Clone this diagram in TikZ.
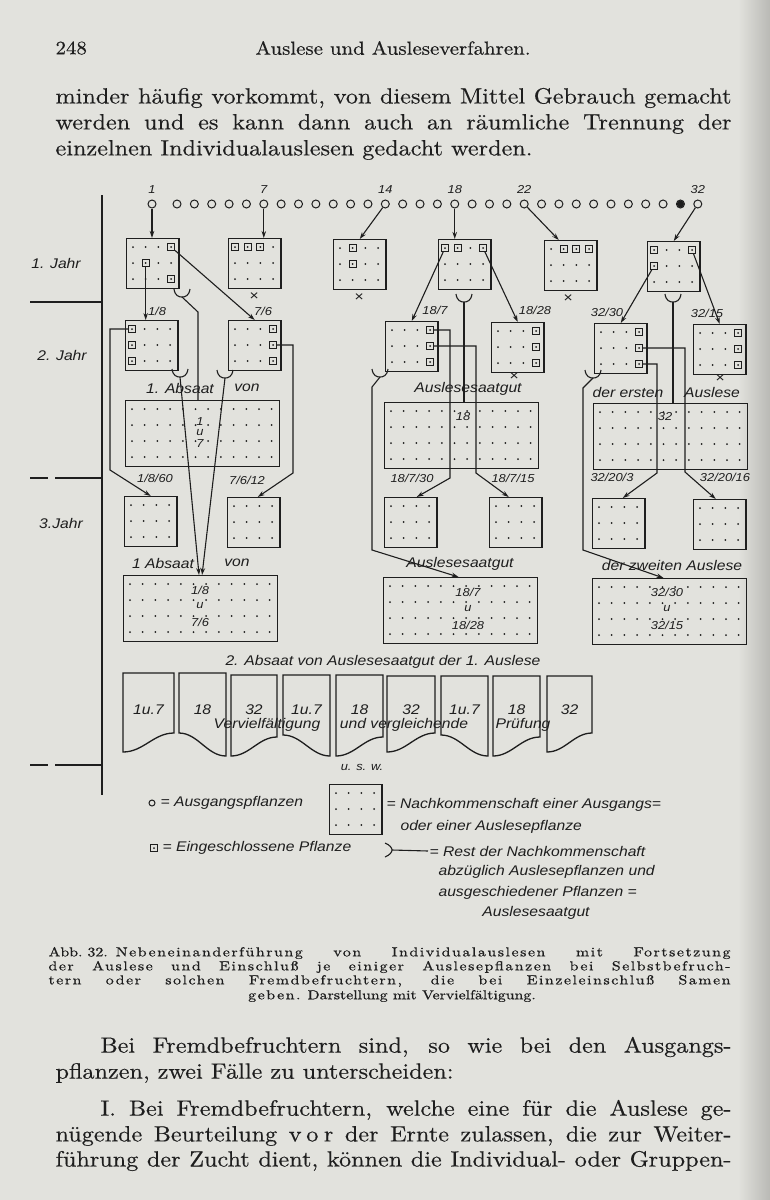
\documentclass[tikz,border=0pt]{standalone}
\usepackage{fontspec}
\newfontfamily\hand{Liberation Sans}[FakeStretch=1.12]
\newfontfamily\bookfont{lmroman10-regular.otf}[FakeStretch=1.1,FakeBold=0.4]
\newfontfamily\capfamily{lmroman10-regular.otf}[FakeStretch=1.22,FakeBold=0.7]
\newfontfamily\capspacefamily{lmroman10-regular.otf}[FakeStretch=1.22,FakeBold=0.7,LetterSpace=12]
\newfontfamily\vorfamily{lmroman10-regular.otf}[FakeStretch=1.1,FakeBold=0.4,LetterSpace=25]
\usetikzlibrary{positioning,arrows.meta,calc}

\definecolor{paper}{RGB}{226,226,221}
\definecolor{ink}{RGB}{30,30,30}

\newcommand\bodyfont{\bookfont\fontsize{22}{26}\selectfont}
\newcommand\headfont{\bookfont\fontsize{19}{22}\selectfont}
\newcommand\capfont{\capfamily\fontsize{13}{14.5}\selectfont}
\newcommand\spaced[1]{{\capspacefamily#1}}

% Parzelle: Name, x, y (links oben), Spalten, Reihen
\newcommand\plotbox[5]{%
  \node[plot, minimum width={(#4-1)*12.7+14}, minimum height={(#5-1)*16+18}] (#1) at (#2,#3) {};
  \foreach \i in {1,...,#4}
    \foreach \j in {1,...,#5}
      \fill ({#2+7+(\i-1)*12.7},{#3+9+(\j-1)*16}) circle (1pt);
}
% eingeschlossene Pflanze: Name, Parzelle, Spalte, Reihe
\newcommand\encl[4]{%
  \node[enc] (#1) at ($(#2.north west)+({7+(#3-1)*12.7},{9+(#4-1)*16})$) {};
}
% Rest der Nachkommenschaft: Name, x, y (Spitze)
\newcommand\rest[3]{%
  \draw ({#2-8},{#3-8}) .. controls ({#2-7},{#3-1}) and ({#2-3},#3) .. (#2,#3)
        .. controls ({#2+3},#3) and ({#2+7},{#3-1}) .. ({#2+8},{#3-8});
  \coordinate (#1) at (#2,#3);
}
% Vervielfaeltigung: x0, x1, oben, unten links, unten rechts, Name, Text
\newcommand\flag[7]{%
  \draw[line width=1.3pt] (#1,#4) -- (#1,#3) -- (#2,#3) -- (#2,#5)
    .. controls ({#2-0.4*(#2-#1)},#5) and ({#1+0.4*(#2-#1)},#4) .. (#1,#4) -- cycle;
  \node[hand] (#6) at ({(#1+#2)/2},710) {#7};
}

\begin{document}
\begin{tikzpicture}[x=1pt, y=-1pt, color=ink, line width=1.1pt,
    plot/.style={draw, rectangle, line width=1.4pt, inner sep=0pt, anchor=north west},
    enc/.style={draw, rectangle, minimum size=7pt, inner sep=0pt, line width=1pt},
    seed/.style={draw, circle, minimum size=8pt, inner sep=0pt, line width=1pt},
    arr/.style={-{Stealth[length=7pt,width=4.5pt]}},
    hand/.style={font=\hand\itshape\fontsize{14}{16}\selectfont, inner sep=1pt},
    num/.style={font=\hand\itshape\fontsize{11.5}{13}\selectfont, inner sep=1pt},
    body/.style={anchor=west, inner sep=0pt, font=\bodyfont},
    capt/.style={anchor=west, inner sep=0pt, font=\capfont}]

\fill[paper] (0,0) rectangle (770,1200);
\shade[left color=paper, right color=paper!82!black] (738,0) rectangle (770,1200);
\useasboundingbox (0,0) rectangle (770,1200);

%%% Kopf
\node[anchor=west, inner sep=0pt, font=\headfont] (pg) at (55,48) {248};
\node[inner sep=0pt, font=\headfont] (hd) at (393,48) {Auslese und Ausleseverfahren.};

\node[body] (t1) at (55,98) {\makebox[676pt][s]{minder häufig vorkommt, von diesem Mittel Gebrauch gemacht}};
\node[body] (t2) at (55,124) {\makebox[676pt][s]{werden und es kann dann auch an räumliche Trennung der}};
\node[body] (t3) at (55,150) {einzelnen Individualauslesen gedacht werden.};

%%% Jahre
\draw (102,195) -- (102,795);
\draw (30,302) -- (102,302);
\draw (30,478) -- (48,478);
\draw (55,478) -- (102,478);
\draw (30,765) -- (48,765);
\draw (55,765) -- (102,765);
\node[hand] (jr1) at (56,263) {1. Jahr};
\node[hand] (jr2) at (62,355) {2. Jahr};
\node[hand] (jr3) at (61,523) {3.Jahr};

%%% Ausgangspflanzen
\node[seed] (c1) at (152,204) {};
\foreach \i in {2,...,32}
  \node[seed] (c\i) at ({177+(\i-2)*17.36},204) {};
\fill (c31) circle (3.6pt);

\node[num, above=4pt of c1] (n1) {1};
\node[num, above=4pt of c7] (n7) {7};
\node[num, above=4pt of c14] (n14) {14};
\node[num, above=4pt of c18] (n18) {18};
\node[num, above=4pt of c22] (n22) {22};
\node[num, above=4pt of c32] (n32) {32};

%%% 1. Jahr
\plotbox{ja}{126}{238}{4}{3}
\plotbox{jb}{228}{238}{4}{3}
\plotbox{jc}{333}{239}{4}{3}
\plotbox{jd}{438}{239}{4}{3}
\plotbox{je}{544}{240}{4}{3}
\plotbox{jf}{647}{241}{4}{3}
\encl{ja1}{ja}{4}{1} \encl{ja2}{ja}{2}{2} \encl{ja3}{ja}{4}{3}
\encl{jb1}{jb}{1}{1} \encl{jb2}{jb}{2}{1} \encl{jb3}{jb}{3}{1}
\encl{jc1}{jc}{2}{1} \encl{jc2}{jc}{2}{2}
\encl{jd1}{jd}{1}{1} \encl{jd2}{jd}{2}{1} \encl{jd3}{jd}{4}{1}
\encl{je1}{je}{2}{1} \encl{je2}{je}{3}{1} \encl{je3}{je}{4}{1}
\encl{jf1}{jf}{1}{1} \encl{jf2}{jf}{4}{1} \encl{jf3}{jf}{1}{2}

\draw[arr] (c1) -- (c1 |- ja.north);
\draw[arr] (c7) -- (c7 |- jb.north);
\draw[arr] (c14) -- (jc.north);
\draw[arr] (c18) -- (c18 |- jd.north);
\draw[arr] (c22) -- ([xshift=-12pt]je.north);
\draw[arr] (c32) -- (jf.north);

\node[hand] (xb) at (254,297) {×};
\node[hand] (xc) at (359,298) {×};
\node[hand] (xe) at (568,299) {×};

%%% 2. Jahr
\plotbox{ka}{125}{320}{4}{3}
\plotbox{kb}{228}{320}{4}{3}
\plotbox{kc}{385}{321}{4}{3}
\plotbox{kd}{491}{322}{4}{3}
\plotbox{ke}{594}{323}{4}{3}
\plotbox{kf}{693}{324}{4}{3}
\foreach \r in {1,2,3} {
  \encl{ka\r}{ka}{1}{\r}
  \encl{kb\r}{kb}{4}{\r}
  \encl{kc\r}{kc}{4}{\r}
  \encl{kd\r}{kd}{4}{\r}
  \encl{ke\r}{ke}{4}{\r}
  \encl{kf\r}{kf}{4}{\r}
}

\draw[arr] (ja2) -- (ja2 |- ka.north);
\draw[arr] (ja1) -- (kb.north);
\draw[arr] (jd1) -- (kc.north);
\draw[arr] (jd3) -- (kd.north);
\draw[arr] (jf3) -- (ke.north);
\draw[arr] (jf2) -- (kf.north);

\node[num] (na) at (157,311) {1/8};
\node[num] (nb) at (263,311) {7/6};
\node[num] (nc) at (435,310) {18/7};
\node[num] (nd) at (535,310) {18/28};
\node[num] (ne) at (607,312) {32/30};
\node[num] (nf) at (707,313) {32/15};

\node[hand] (xd) at (514,377) {×};
\node[hand] (xf) at (720,379) {×};

%% 1. Absaat
\plotbox{ga}{125}{400}{12}{4}
\plotbox{gb}{384}{402}{12}{4}
\plotbox{gc}{593}{403}{12}{4}

\node[hand] (ga1) at (180,388) {1. Absaat};
\node[hand] (ga2) at (247,388) {von};
\node[hand] (gb1) at (468,389) {Auslesesaatgut};
\node[hand] (gc1) at (628,392) {der ersten};
\node[hand] (gc2) at (712,392) {Auslese};

\node[num] (gat1) at (200,422) {1};
\node[num] (gat2) at (200,433) {u};
\node[num] (gat3) at (200,444) {7};
\node[num] (gbt) at (463,417) {18};
\node[num] (gct) at (665,417) {32};

\rest{ra}{182}{297}
\draw (ra) -- ++(16,15) coordinate (ua) -- (ua |- ga.north);
\rest{rd}{464}{302}
\draw (rd) -- (rd |- gb.north);
\rest{rf}{673}{302}
\draw (rf) -- (rf |- gc.north);

%%% 3. Jahr
\plotbox{la}{124}{496}{4}{3}
\plotbox{lb}{227}{497}{4}{3}
\plotbox{lc}{384}{497}{4}{3}
\plotbox{ld}{489}{497}{4}{3}
\plotbox{le}{592}{498}{4}{3}
\plotbox{lf}{693}{499}{4}{3}

\coordinate (ta) at (110,470);
\coordinate (tb) at (293,473);
\coordinate (tc) at (450,478);
\coordinate (td) at (476,473);
\coordinate (te) at (657,473);
\coordinate (tf) at (685,472);
\draw[arr] (ka1) -| (ta) -- (la.north);
\draw[arr] (kb2) -| (tb) -- ([xshift=4pt]lb.north);
\draw[arr] (kc1) -| (tc) -- ([xshift=6pt]lc.north);
\draw[arr] (kc2) -| (td) -- ([xshift=-7pt]ld.north);
\draw[arr] (ke3) -| (te) -- ([xshift=4pt]le.north);
\draw[arr] (ke2) -| (tf) -- ([xshift=-4pt]lf.north);

\node[num] (la1) at (155,478) {1/8/60};
\node[num] (lb1) at (247,480) {7/6/12};
\node[num] (lc1) at (412,478) {18/7/30};
\node[num] (ld1) at (513,478) {18/7/15};
\node[num] (le1) at (612,477) {32/20/3};
\node[num] (lf1) at (725,477) {32/20/16};

%% 1. Absaat der zweiten Auslese
\plotbox{ha}{123}{575}{12}{4}
\plotbox{hb}{383}{577}{12}{4}
\plotbox{hc}{592}{578}{12}{4}

\node[hand] (ha1) at (163,563) {1 Absaat};
\node[hand] (ha2) at (237,563) {von};
\node[hand] (hb1) at (460,564) {Auslesesaatgut};
\node[hand] (hc1) at (672,565) {der zweiten Auslese};

\node[num] (hat1) at (200,590) {1/8};
\node[num] (hat2) at (200,606) {u};
\node[num] (hat3) at (200,622) {7/6};
\node[num] (hbt1) at (468,592) {18/7};
\node[num] (hbt2) at (468,609) {u};
\node[num] (hbt3) at (468,625) {18/28};
\node[num] (hct1) at (667,592) {32/30};
\node[num] (hct2) at (667,609) {u};
\node[num] (hct3) at (667,625) {32/15};

\rest{rka}{180}{377}
\draw[arr] (rka) -- ([xshift=-1.5pt]ha.north);
\rest{rkb}{225}{378}
\draw[arr] (rkb) -- ([xshift=1.5pt]ha.north);
\rest{rkc}{380}{377}
\coordinate (vc) at (372,550);
\draw[arr] (rkc) -- ++(-8,10) -- (vc) -- ([xshift=-2pt]hb.north);
\rest{rke}{593}{378}
\coordinate (ve) at (583,550);
\draw[arr] (rke) -- ++(-10,10) -- (ve) -- ([xshift=-6pt]hc.north);

%%% 2. Absaat
\node[hand] (ab2) at (383,662) {2. Absaat von Auslesesaatgut der 1. Auslese};
\flag{123}{174}{673}{752}{733}{fa}{1u.7}
\flag{179}{226}{673}{733}{756}{fb}{18}
\flag{231}{277}{675}{756}{737}{fc}{32}
\flag{283}{330}{675}{735}{756}{fd}{1u.7}
\flag{336}{383}{675}{756}{737}{fe}{18}
\flag{387}{435}{676}{752}{733}{ff}{32}
\flag{441}{488}{676}{735}{756}{fg}{1u.7}
\flag{493}{540}{676}{756}{737}{fh}{18}
\flag{547}{592}{676}{752}{733}{fi}{32}
\node[hand] (ov1) at (267,725) {Vervielfältigung};
\node[hand] (ov2) at (404,725) {und vergleichende};
\node[hand] (ov3) at (523,725) {Prüfung};
\node[num] (usw) at (362,767) {u. s. w.};

%%% Zeichenerklaerung
\node[seed, minimum size=6pt] (lgo) at (152,803) {};
\node[hand, anchor=west] (lgot) at (159,803) {= Ausgangspflanzen};
\plotbox{lgb}{329}{784}{4}{3}
\node[hand, anchor=west] (lgbt) at (385,805) {= Nachkommenschaft einer Ausgangs=};
\node[hand, anchor=west] (lgbu) at (399,827) {oder einer Auslesepflanze};
\node[enc] (lge) at (154,848) {};
\fill (lge) circle (1pt);
\node[hand, anchor=west] (lget) at (161,848) {= Eingeschlossene Pflanze};
\draw (385,843) .. controls (390,845) and (392,848) .. (392,850)
      .. controls (392,852) and (390,855) .. (385,857);
\coordinate (lgr) at (392,850);
\node[hand, anchor=west] (lgrt) at (428,851) {= Rest der Nachkommenschaft};
\draw (lgr) -- (lgrt.west);
\node[hand, anchor=west] (lgr2) at (437,872) {abzüglich Auslesepflanzen und};
\node[hand, anchor=west] (lgr3) at (437,893) {ausgeschiedener Pflanzen =};
\node[hand] (lgr4) at (536,913) {Auslesesaatgut};

%%% Unterschrift
\node[capt] (k1) at (48,953) {\makebox[682pt][s]{Abb.\hspace{5pt}32.\hspace{8pt}\spaced{Nebeneinanderführung von Individualauslesen mit Fortsetzung}}};
\node[capt] (k2) at (48,967) {\makebox[682pt][s]{\spaced{der Auslese und Einschluß je einiger Auslesepflanzen bei Selbstbefruch-}}};
\node[capt] (k3) at (48,981) {\makebox[682pt][s]{\spaced{tern oder solchen Fremdbefruchtern, die bei Einzeleinschluß Samen}}};
\node[inner sep=0pt, font=\capfont] (k4) at (392,996) {\spaced{geben.} Darstellung mit Vervielfältigung.};

%%% Text unten
\node[body] (b1) at (100,1047) {\makebox[631pt][s]{Bei Fremdbefruchtern sind, so wie bei den Ausgangs-}};
\node[body] (b2) at (55,1073) {pflanzen, zwei Fälle zu unterscheiden:};
\node[body] (b3) at (100,1110) {\makebox[631pt][s]{I. Bei Fremdbefruchtern, welche eine für die Auslese ge-}};
\node[body] (b4) at (55,1136) {\makebox[676pt][s]{nügende Beurteilung {\vorfamily vor} der Ernte zulassen, die zur Weiter-}};
\node[body] (b5) at (55,1161) {\makebox[676pt][s]{führung der Zucht dient, können die Individual- oder Gruppen-}};

\end{tikzpicture}
\end{document}
